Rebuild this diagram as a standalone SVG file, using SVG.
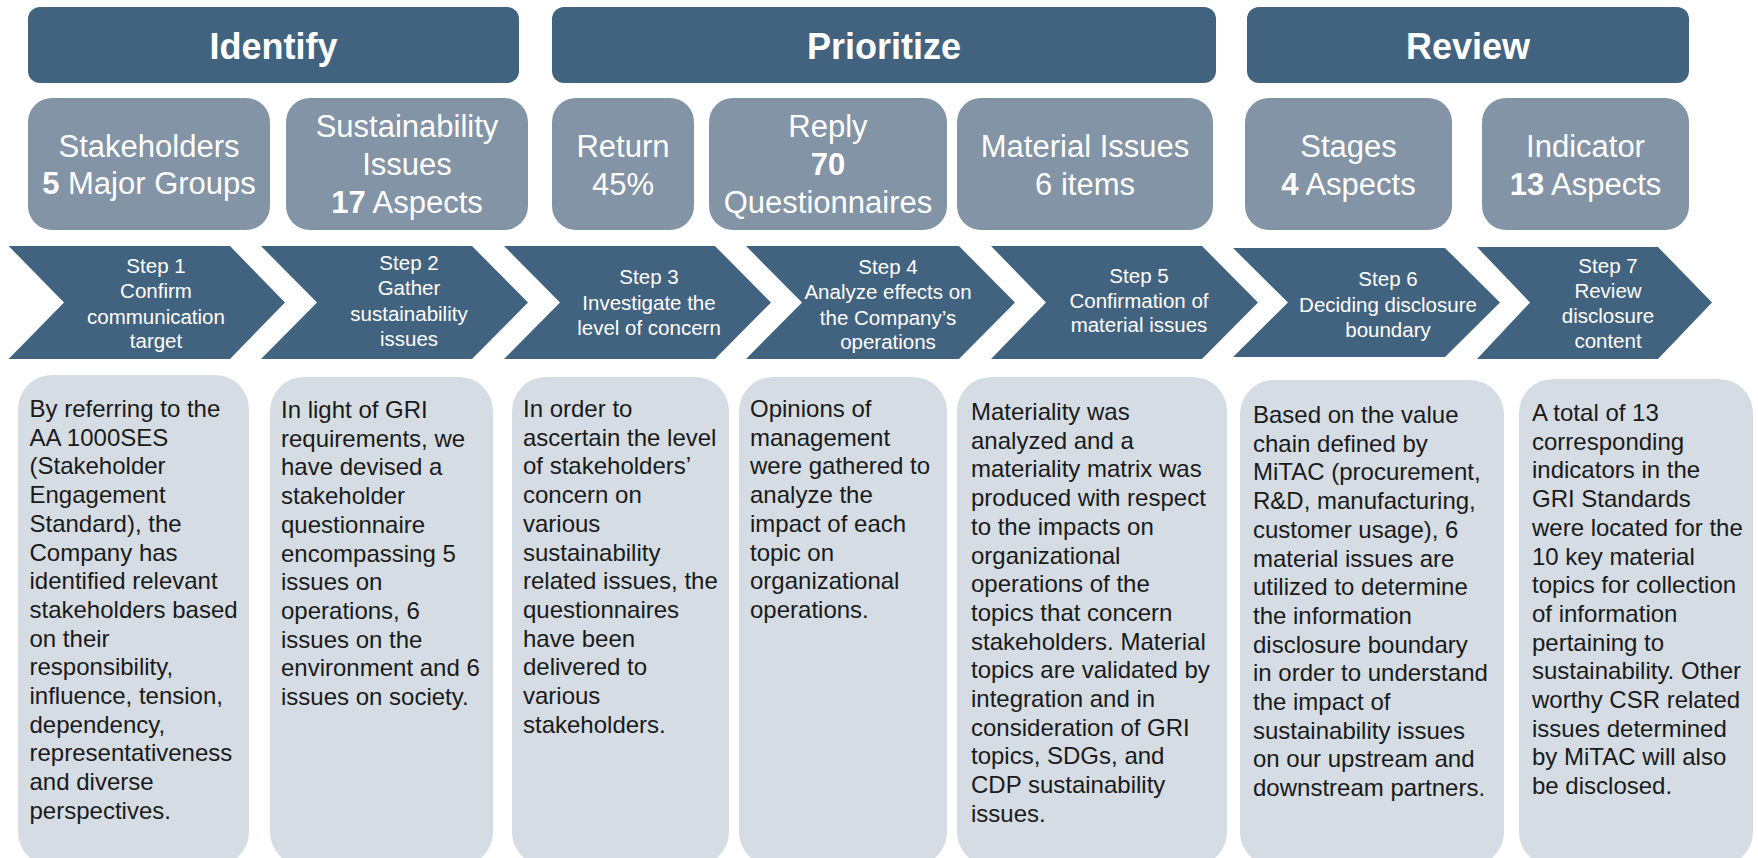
<svg xmlns="http://www.w3.org/2000/svg" width="1758" height="858" viewBox="0 0 1758 858">
<style>
.hdr{fill:#426380}
.hdrt{font-family:"Liberation Sans",Arial,sans-serif;font-size:36px;font-weight:bold;fill:#ffffff;text-anchor:middle}
.sub{fill:#8294a6}
.subt{font-family:"Liberation Sans",Arial,sans-serif;font-size:31px;fill:#ffffff;text-anchor:middle}
.b{font-weight:bold}
.chev{fill:#426380}
.chevt{font-family:"Liberation Sans",Arial,sans-serif;font-size:20.5px;fill:#ffffff;text-anchor:middle}
.desc{fill:#d5dce3}
.desct{font-family:"Liberation Sans",Arial,sans-serif;font-size:24px;fill:#1a1a1a}
</style>
<rect width="1758" height="858" fill="#ffffff"/>

<g id="header-identify">
<rect class="hdr" x="28" y="7" width="491" height="76" rx="12"/>
<text class="hdrt" x="273.5" y="58.5">Identify</text>
</g>
<g id="header-prioritize">
<rect class="hdr" x="552" y="7" width="664" height="76" rx="12"/>
<text class="hdrt" x="884" y="58.5">Prioritize</text>
</g>
<g id="header-review">
<rect class="hdr" x="1247" y="7" width="442" height="76" rx="12"/>
<text class="hdrt" x="1468" y="58.5">Review</text>
</g>

<g id="sub-stakeholders">
<rect class="sub" x="28" y="98" width="242" height="132" rx="24"/>
<text class="subt" x="149" y="157">Stakeholders</text>
<text class="subt" x="149" y="194"><tspan class="b">5</tspan> Major Groups</text>
</g>
<g id="sub-sustainability">
<rect class="sub" x="286" y="98" width="242" height="132" rx="24"/>
<text class="subt" x="407" y="137">Sustainability</text>
<text class="subt" x="407" y="175">Issues</text>
<text class="subt" x="407" y="213"><tspan class="b">17</tspan> Aspects</text>
</g>
<g id="sub-return">
<rect class="sub" x="552" y="98" width="142" height="132" rx="24"/>
<text class="subt" x="623" y="157">Return</text>
<text class="subt" x="623" y="195">45%</text>
</g>
<g id="sub-reply">
<rect class="sub" x="709" y="98" width="238" height="132" rx="24"/>
<text class="subt" x="828" y="137">Reply</text>
<text class="subt b" x="828" y="175">70</text>
<text class="subt" x="828" y="213">Questionnaires</text>
</g>
<g id="sub-material">
<rect class="sub" x="957" y="98" width="256" height="132" rx="24"/>
<text class="subt" x="1085" y="157">Material Issues</text>
<text class="subt" x="1085" y="195">6 items</text>
</g>
<g id="sub-stages">
<rect class="sub" x="1245" y="98" width="207" height="132" rx="24"/>
<text class="subt" x="1348.5" y="157">Stages</text>
<text class="subt" x="1348.5" y="195"><tspan class="b">4</tspan> Aspects</text>
</g>
<g id="sub-indicator">
<rect class="sub" x="1482" y="98" width="207" height="132" rx="24"/>
<text class="subt" x="1585.5" y="157">Indicator</text>
<text class="subt" x="1585.5" y="195"><tspan class="b">13</tspan> Aspects</text>
</g>

<g id="step1">
<polygon class="chev" points="8.6,246 230,246 285,302.5 230,359 8.6,359 64,302.5"/>
<text class="chevt" x="156" y="273">Step 1</text>
<text class="chevt" x="156" y="298">Confirm</text>
<text class="chevt" x="156" y="323.5">communication</text>
<text class="chevt" x="156" y="348">target</text>
</g>
<g id="step2">
<polygon class="chev" points="261,246 472,246 528,302.5 472,359 261,359 317,302.5"/>
<text class="chevt" x="409" y="270">Step 2</text>
<text class="chevt" x="409" y="295">Gather</text>
<text class="chevt" x="409" y="321">sustainability</text>
<text class="chevt" x="409" y="346">issues</text>
</g>
<g id="step3">
<polygon class="chev" points="504,246 715,246 771,302.5 715,359 504,359 560,302.5"/>
<text class="chevt" x="649" y="284">Step 3</text>
<text class="chevt" x="649" y="309.5">Investigate the</text>
<text class="chevt" x="649" y="335">level of concern</text>
</g>
<g id="step4">
<polygon class="chev" points="746,246 959,246 1015,302.5 959,359 746,359 802,302.5"/>
<text class="chevt" x="888" y="274">Step 4</text>
<text class="chevt" x="888" y="299">Analyze effects on</text>
<text class="chevt" x="888" y="324.5">the Company’s</text>
<text class="chevt" x="888" y="349">operations</text>
</g>
<g id="step5">
<polygon class="chev" points="991,246 1202,246 1258,302.5 1202,359 991,359 1046,302.5"/>
<text class="chevt" x="1139" y="282.5">Step 5</text>
<text class="chevt" x="1139" y="307.5">Confirmation of</text>
<text class="chevt" x="1139" y="332">material issues</text>
</g>
<g id="step6">
<polygon class="chev" points="1233,248 1445,248 1500,302.5 1445,357 1233,357 1288,302.5"/>
<text class="chevt" x="1388" y="286">Step 6</text>
<text class="chevt" x="1388" y="311.5">Deciding disclosure</text>
<text class="chevt" x="1388" y="336.5">boundary</text>
</g>
<g id="step7">
<polygon class="chev" points="1477,247 1658,247 1712,302.5 1658,359 1477,359 1530,302.5"/>
<text class="chevt" x="1608" y="272.5">Step 7</text>
<text class="chevt" x="1608" y="298">Review</text>
<text class="chevt" x="1608" y="323">disclosure</text>
<text class="chevt" x="1608" y="348">content</text>
</g>

<g id="desc1">
<rect class="desc" x="18" y="375" width="231" height="491" rx="34"/>
<text class="desct" x="29.5" y="417">
<tspan x="29.5" dy="0">By referring to the</tspan>
<tspan x="29.5" dy="28.7">AA 1000SES</tspan>
<tspan x="29.5" dy="28.7">(Stakeholder</tspan>
<tspan x="29.5" dy="28.7">Engagement</tspan>
<tspan x="29.5" dy="28.7">Standard), the</tspan>
<tspan x="29.5" dy="28.7">Company has</tspan>
<tspan x="29.5" dy="28.7">identified relevant</tspan>
<tspan x="29.5" dy="28.7">stakeholders based</tspan>
<tspan x="29.5" dy="28.7">on their</tspan>
<tspan x="29.5" dy="28.7">responsibility,</tspan>
<tspan x="29.5" dy="28.7">influence, tension,</tspan>
<tspan x="29.5" dy="28.7">dependency,</tspan>
<tspan x="29.5" dy="28.7">representativeness</tspan>
<tspan x="29.5" dy="28.7">and diverse</tspan>
<tspan x="29.5" dy="28.7">perspectives.</tspan>
</text>
</g>
<g id="desc2">
<rect class="desc" x="270" y="377" width="223" height="489" rx="34"/>
<text class="desct" x="281" y="418">
<tspan x="281" dy="0">In light of GRI</tspan>
<tspan x="281" dy="28.7">requirements, we</tspan>
<tspan x="281" dy="28.7">have devised a</tspan>
<tspan x="281" dy="28.7">stakeholder</tspan>
<tspan x="281" dy="28.7">questionnaire</tspan>
<tspan x="281" dy="28.7">encompassing 5</tspan>
<tspan x="281" dy="28.7">issues on</tspan>
<tspan x="281" dy="28.7">operations, 6</tspan>
<tspan x="281" dy="28.7">issues on the</tspan>
<tspan x="281" dy="28.7">environment and 6</tspan>
<tspan x="281" dy="28.7">issues on society.</tspan>
</text>
</g>
<g id="desc3">
<rect class="desc" x="512" y="377" width="217" height="489" rx="34"/>
<text class="desct" x="523" y="417">
<tspan x="523" dy="0">In order to</tspan>
<tspan x="523" dy="28.7">ascertain the level</tspan>
<tspan x="523" dy="28.7">of stakeholders’</tspan>
<tspan x="523" dy="28.7">concern on</tspan>
<tspan x="523" dy="28.7">various</tspan>
<tspan x="523" dy="28.7">sustainability</tspan>
<tspan x="523" dy="28.7">related issues, the</tspan>
<tspan x="523" dy="28.7">questionnaires</tspan>
<tspan x="523" dy="28.7">have been</tspan>
<tspan x="523" dy="28.7">delivered to</tspan>
<tspan x="523" dy="28.7">various</tspan>
<tspan x="523" dy="28.7">stakeholders.</tspan>
</text>
</g>
<g id="desc4">
<rect class="desc" x="739" y="377" width="208" height="489" rx="34"/>
<text class="desct" x="750" y="417">
<tspan x="750" dy="0">Opinions of</tspan>
<tspan x="750" dy="28.7">management</tspan>
<tspan x="750" dy="28.7">were gathered to</tspan>
<tspan x="750" dy="28.7">analyze the</tspan>
<tspan x="750" dy="28.7">impact of each</tspan>
<tspan x="750" dy="28.7">topic on</tspan>
<tspan x="750" dy="28.7">organizational</tspan>
<tspan x="750" dy="28.7">operations.</tspan>
</text>
</g>
<g id="desc5">
<rect class="desc" x="957" y="377" width="270" height="489" rx="34"/>
<text class="desct" x="971" y="420">
<tspan x="971" dy="0">Materiality was</tspan>
<tspan x="971" dy="28.7">analyzed and a</tspan>
<tspan x="971" dy="28.7">materiality matrix was</tspan>
<tspan x="971" dy="28.7">produced with respect</tspan>
<tspan x="971" dy="28.7">to the impacts on</tspan>
<tspan x="971" dy="28.7">organizational</tspan>
<tspan x="971" dy="28.7">operations of the</tspan>
<tspan x="971" dy="28.7">topics that concern</tspan>
<tspan x="971" dy="28.7">stakeholders. Material</tspan>
<tspan x="971" dy="28.7">topics are validated by</tspan>
<tspan x="971" dy="28.7">integration and in</tspan>
<tspan x="971" dy="28.7">consideration of GRI</tspan>
<tspan x="971" dy="28.7">topics, SDGs, and</tspan>
<tspan x="971" dy="28.7">CDP sustainability</tspan>
<tspan x="971" dy="28.7">issues.</tspan>
</text>
</g>
<g id="desc6">
<rect class="desc" x="1240" y="380" width="264" height="486" rx="34"/>
<text class="desct" x="1253" y="423">
<tspan x="1253" dy="0">Based on the value</tspan>
<tspan x="1253" dy="28.7">chain defined by</tspan>
<tspan x="1253" dy="28.7">MiTAC (procurement,</tspan>
<tspan x="1253" dy="28.7">R&amp;D, manufacturing,</tspan>
<tspan x="1253" dy="28.7">customer usage), 6</tspan>
<tspan x="1253" dy="28.7">material issues are</tspan>
<tspan x="1253" dy="28.7">utilized to determine</tspan>
<tspan x="1253" dy="28.7">the information</tspan>
<tspan x="1253" dy="28.7">disclosure boundary</tspan>
<tspan x="1253" dy="28.7">in order to understand</tspan>
<tspan x="1253" dy="28.7">the impact of</tspan>
<tspan x="1253" dy="28.7">sustainability issues</tspan>
<tspan x="1253" dy="28.7">on our upstream and</tspan>
<tspan x="1253" dy="28.7">downstream partners.</tspan>
</text>
</g>
<g id="desc7">
<rect class="desc" x="1519" y="379" width="234" height="487" rx="34"/>
<text class="desct" x="1532" y="421">
<tspan x="1532" dy="0">A total of 13</tspan>
<tspan x="1532" dy="28.7">corresponding</tspan>
<tspan x="1532" dy="28.7">indicators in the</tspan>
<tspan x="1532" dy="28.7">GRI Standards</tspan>
<tspan x="1532" dy="28.7">were located for the</tspan>
<tspan x="1532" dy="28.7">10 key material</tspan>
<tspan x="1532" dy="28.7">topics for collection</tspan>
<tspan x="1532" dy="28.7">of information</tspan>
<tspan x="1532" dy="28.7">pertaining to</tspan>
<tspan x="1532" dy="28.7">sustainability. Other</tspan>
<tspan x="1532" dy="28.7">worthy CSR related</tspan>
<tspan x="1532" dy="28.7">issues determined</tspan>
<tspan x="1532" dy="28.7">by MiTAC will also</tspan>
<tspan x="1532" dy="28.7">be disclosed.</tspan>
</text>
</g>

<g id="connectors"></g>
</svg>
